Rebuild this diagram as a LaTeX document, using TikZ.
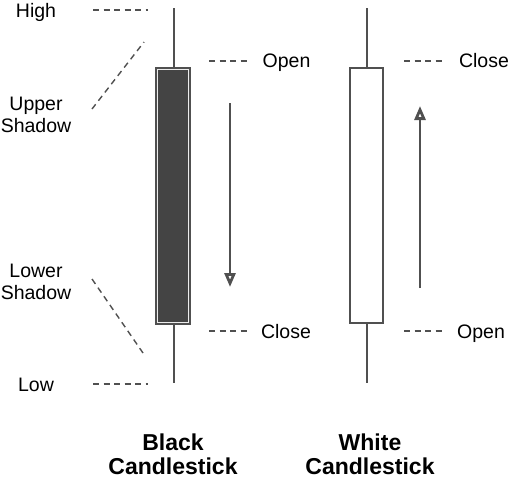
\documentclass[tikz,border=0pt]{standalone}
\usepackage{fontspec}
\setmainfont{Liberation Sans}
\usetikzlibrary{arrows.meta}
\definecolor{cgray}{HTML}{505050}
\definecolor{cdark}{HTML}{444444}
\begin{document}
\begin{tikzpicture}[x=1pt,y=-1pt,
  wick/.style={draw=cgray,line width=2.6pt},
  body/.style={draw=cgray,line width=2.2pt},
  guide/.style={draw=cgray,line width=1.4pt,dash pattern=on 6pt off 4.5pt},
  trend/.style={draw=cgray,line width=2.2pt,-{Triangle[open,length=14pt,width=11pt,line width=2.8pt]}},
  lab/.style={font=\fontsize{19.5}{22}\selectfont,text=black,align=center,inner sep=0pt,anchor=base},
  title/.style={font=\fontsize{23}{24}\selectfont\bfseries,text=black,align=center,inner sep=0pt,anchor=base}]
\useasboundingbox (0,0) rectangle (510,480);
% coordinates
\coordinate (bh) at (174,8);  \coordinate (bl) at (174,383);
\coordinate (wh) at (367,8);  \coordinate (wl) at (367,383);
% wicks
\draw[wick] (bh) -- (bl);
\draw[wick] (wh) -- (wl);
% bodies
\node[body,fill=cdark,minimum width=34pt,minimum height=256pt,inner sep=0pt] (bb) at (173,196) {};
\draw[white!85!gray,line width=1pt] ([xshift=3pt,yshift=-3pt]bb.north west) rectangle ([xshift=-3pt,yshift=3pt]bb.south east);
\node[body,fill=white,minimum width=33pt,minimum height=255pt,inner sep=0pt] (wb) at (366.5,195.5) {};
% trend arrows
\coordinate (d1) at (230,103); \coordinate (d2) at (230,287);
\coordinate (u1) at (420,288); \coordinate (u2) at (420,106);
\draw[trend] (d1) -- (d2);
\draw[trend] (u1) -- (u2);
% labels (base anchor = baseline of last line)
\node[lab] (high) at (36,17) {High};
\node[lab] (ups) at (36,132) {Upper\\Shadow};
\node[lab] (los) at (36,299) {Lower\\Shadow};
\node[lab] (low) at (36,391) {Low};
\node[lab] (bo) at (286.5,67) {Open};
\node[lab] (bc) at (286,338) {Close};
\node[lab] (wc) at (484,67) {Close};
\node[lab] (wo) at (481,338) {Open};
\node[title] (bt) at (173,474) {Black\\Candlestick};
\node[title] (wt) at (370,474) {White\\Candlestick};
% guide lines
\coordinate (g1a) at (93,10);  \coordinate (g1b) at (148,10);
\coordinate (g2a) at (93,384); \coordinate (g2b) at (148,384);
\coordinate (g3a) at (209,61); \coordinate (g3b) at (248,61);
\coordinate (g4a) at (209,331); \coordinate (g4b) at (248,331);
\coordinate (g5a) at (404,61); \coordinate (g5b) at (442,61);
\coordinate (g6a) at (404,331); \coordinate (g6b) at (442,331);
\coordinate (g7a) at (92,109); \coordinate (g7b) at (144,42);
\coordinate (g8a) at (92,279); \coordinate (g8b) at (143,353);
\foreach \g in {1,...,8} {\draw[guide] (g\g a) -- (g\g b);}
\end{tikzpicture}
\end{document}
